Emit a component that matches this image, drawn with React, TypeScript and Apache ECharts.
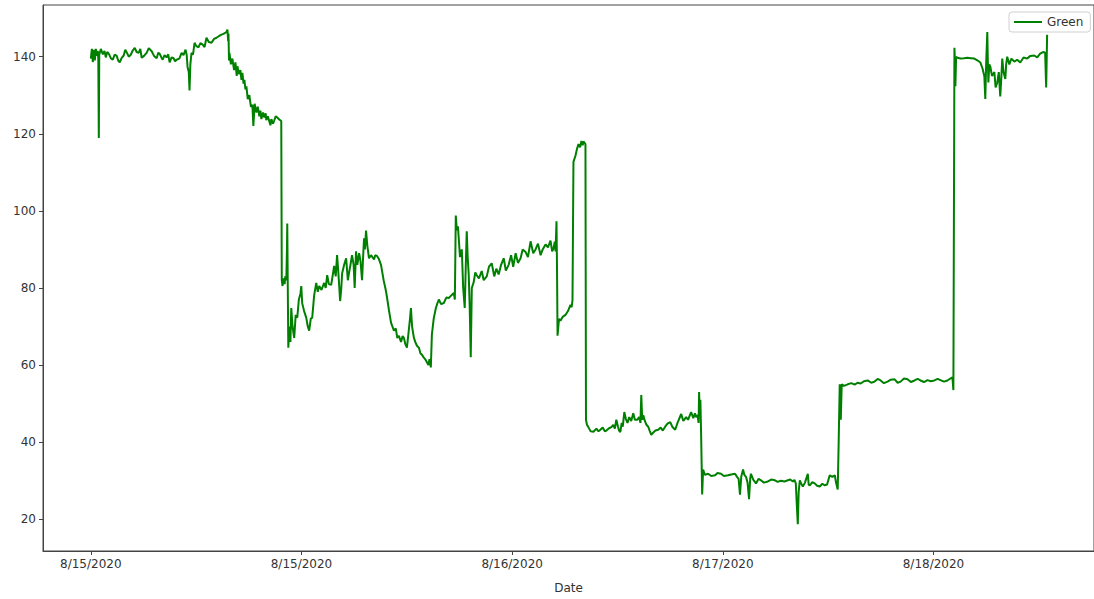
import React, { useEffect, useRef } from "react";
import * as echarts from "echarts";

// Readings of the "Green" channel, as [hours since 8/15/2020 00:00, value].
const firstPlateau: [number, number][] = [
  [0.0, 139.5], [0.1, 142], [0.19, 138.6], [0.28, 141.8], [0.38, 139], [0.47, 142], [0.57, 140.2],
  [0.66, 141.5], [0.71, 139.5], [0.76, 118.9], [0.8, 140.5], [0.95, 142], [1.14, 140.6], [1.3, 141.5],
  [1.42, 139.8], [1.56, 141.2], [1.7, 140.8], [1.9, 139.6], [2.08, 139.2], [2.27, 140.5], [2.46, 140.2],
  [2.6, 139], [2.75, 138.5], [2.93, 139.7], [3.12, 140.3], [3.27, 141.8], [3.41, 141.1], [3.6, 140],
  [3.79, 140.5], [3.98, 141.6], [4.17, 142.3], [4.35, 141.2], [4.54, 141], [4.7, 142], [4.83, 139.7],
  [5.05, 140.2], [5.3, 141], [5.5, 142.2], [5.78, 141.4], [6.0, 140.2], [6.25, 139.6], [6.4, 141],
  [6.53, 140.8], [6.7, 139.8], [6.82, 139.2], [7.0, 140.4], [7.19, 139.8], [7.35, 140.6], [7.48, 138.5],
  [7.67, 139.8], [7.86, 139.6], [8.0, 138.8], [8.14, 139.2], [8.4, 139.5], [8.62, 141], [8.8, 140.4],
  [8.99, 141.8], [9.1, 140.5], [9.18, 137.4], [9.3, 136], [9.37, 131.2], [9.45, 138], [9.56, 141],
  [9.7, 140.5], [9.85, 143.6], [10.0, 142.8], [10.22, 142.4], [10.4, 143.5], [10.6, 143.2],
  [10.8, 142.5], [10.98, 144.9], [11.2, 143.8], [11.46, 143.6], [11.7, 144.6], [11.93, 144.9],
  [12.15, 145.3], [12.4, 145.7], [12.6, 145.9], [12.88, 146.4], [12.97, 147], [13.04, 144], [13.07, 146],
  [13.12, 139], [13.16, 141], [13.3, 138], [13.44, 139.5], [13.6, 136.5], [13.73, 138.5], [13.85, 135],
  [13.92, 137.5], [14.05, 135.5], [14.2, 136.5], [14.3, 134], [14.39, 135.8], [14.5, 133], [14.58, 134],
  [14.68, 131.5], [14.77, 132.3], [14.9, 129], [15.05, 130], [15.2, 127], [15.34, 127.5], [15.43, 122],
  [15.55, 127.8], [15.72, 125.5], [15.85, 127], [16.0, 124.5], [16.1, 126], [16.19, 123.8],
  [16.35, 125.5], [16.47, 124.2], [16.6, 125.3], [16.66, 123.5], [16.8, 124.5], [16.95, 123.2],
  [17.05, 122.2], [17.14, 123.8], [17.3, 122.6], [17.42, 123.5], [17.55, 124.5], [17.7, 124.2],
  [17.89, 123.7], [18.08, 123.3],
];

const middleSwing: [number, number][] = [
  [18.13, 82], [18.2, 80.5], [18.27, 82.5], [18.4, 81], [18.46, 83], [18.56, 82], [18.62, 90],
  [18.65, 96.7], [18.7, 80], [18.75, 64.5], [18.85, 70], [18.95, 66], [19.03, 74.8], [19.15, 70],
  [19.31, 67], [19.45, 73], [19.6, 72.3], [19.75, 77], [19.9, 78.5], [19.98, 80.5], [20.07, 76],
  [20.25, 74], [20.45, 72.3], [20.6, 70], [20.73, 68.9], [20.88, 72], [21.02, 72.3], [21.2, 78],
  [21.4, 81.3], [21.55, 79], [21.68, 80.5], [21.9, 79.5], [22.15, 81.3], [22.3, 80], [22.44, 83.3],
  [22.6, 81], [22.82, 80.8], [22.95, 83], [23.1, 85.7], [23.25, 83], [23.38, 88.5], [23.5, 84],
  [23.67, 76.6], [23.78, 80], [23.86, 83.8], [24.05, 86], [24.24, 87.7], [24.4, 82], [24.52, 84],
  [24.65, 86], [24.8, 88.5], [24.95, 86], [25.05, 80], [25.18, 89.5], [25.3, 86], [25.47, 89],
  [25.6, 87], [25.75, 82], [25.85, 88], [25.94, 92.9], [26.02, 90], [26.13, 94.9], [26.25, 91],
  [26.41, 87.7], [26.6, 88.5], [26.89, 87.4], [27.0, 88.5], [27.17, 88.3], [27.35, 87.5], [27.55, 86],
  [27.8, 82], [28.02, 79.2], [28.15, 77], [28.31, 74.1], [28.5, 71], [28.78, 68.9], [28.95, 69.5],
  [29.1, 67], [29.25, 67.6], [29.45, 66], [29.6, 67.5], [29.73, 67], [29.85, 65.5], [30.01, 64.5],
  [30.15, 68], [30.3, 72], [30.39, 74.8], [30.5, 70], [30.67, 67.1], [30.8, 66], [30.96, 65],
  [31.15, 64.5], [31.3, 63], [31.43, 62.7], [31.6, 62], [31.75, 61.5], [31.91, 60.7], [32.05, 60],
  [32.15, 61.5], [32.28, 59.4], [32.38, 67.9], [32.55, 72], [32.76, 74.8], [32.9, 76], [33.04, 77],
  [33.25, 75.8], [33.51, 76.1], [33.75, 77.5], [33.99, 77.4], [34.2, 78], [34.46, 78.7], [34.56, 77],
  [34.65, 98.8], [34.75, 95], [34.85, 96], [34.93, 92.9], [35.05, 88], [35.22, 90], [35.35, 80],
  [35.5, 74.8], [35.6, 86], [35.69, 94.7], [35.78, 88], [35.88, 83.3], [35.97, 75], [36.07, 62],
  [36.17, 80], [36.35, 81.5], [36.5, 84], [36.64, 83.3], [36.85, 82.5], [37.11, 84.4], [37.3, 82],
  [37.59, 83], [37.8, 85.5], [38.06, 86.4], [38.3, 83], [38.5, 85], [38.72, 83.5], [38.95, 86],
  [39.2, 87.7], [39.4, 84.5], [39.67, 86], [39.9, 88.5], [40.1, 85.5], [40.33, 89], [40.55, 86.5],
  [40.8, 87.7], [41.0, 90], [41.28, 89.3], [41.5, 88], [41.75, 92.1], [42.0, 89], [42.22, 90],
  [42.45, 91.5], [42.7, 88.5], [42.9, 90], [43.17, 91.3], [43.4, 90.5], [43.64, 92.3], [43.8, 89.5],
  [43.93, 90.3], [44.05, 92], [44.12, 89.5], [44.21, 97.3], [44.26, 85], [44.31, 67.6], [44.45, 72],
  [44.59, 71.5], [44.8, 72.5], [45.06, 73], [45.3, 74], [45.54, 75.6], [45.65, 75], [45.73, 76.9],
  [45.82, 112.7], [46.01, 114.3], [46.15, 116], [46.3, 117.3], [46.45, 116.5], [46.58, 118.1],
  [46.7, 117], [46.77, 118], [46.96, 117.3],
];

const lowerSteps: [number, number][] = [
  [47.01, 45.8], [47.1, 44.5], [47.24, 43.9], [47.45, 42.8], [47.72, 42.7], [48.0, 43.5], [48.2, 42.8],
  [48.38, 43.2], [48.6, 43.8], [48.8, 42.8], [48.95, 43], [49.2, 43.6], [49.42, 43.9], [49.6, 44.5],
  [49.75, 43.5], [49.89, 45.8], [50.05, 44], [50.15, 43], [50.27, 42.6], [50.4, 45], [50.5, 44],
  [50.65, 47.8], [50.8, 46], [50.95, 45], [51.12, 46.5], [51.3, 45.5], [51.5, 47.5], [51.65, 45.8],
  [51.88, 45.8], [52.05, 46.5], [52.18, 45], [52.26, 52.2], [52.35, 45.8], [52.45, 47], [52.6, 45.5],
  [52.75, 44.5], [52.92, 44], [53.05, 43], [53.21, 41.9], [53.4, 42.5], [53.6, 43], [53.87, 43.2],
  [54.1, 43.8], [54.3, 43], [54.53, 44], [54.75, 44.8], [55.01, 45.2], [55.2, 44], [55.48, 43.2],
  [55.7, 45], [55.85, 46], [56.05, 47.3], [56.25, 45.5], [56.52, 46.5], [56.7, 45.8], [56.99, 47.8],
  [57.2, 46.2], [57.35, 47.5], [57.47, 46.5], [57.6, 47], [57.7, 45], [57.75, 53], [57.8, 48],
  [57.87, 51], [57.94, 42.1], [58.04, 26.4], [58.13, 32.9], [58.3, 31.5], [58.6, 31.8], [58.9, 31.2],
  [59.27, 31.4], [59.5, 32], [59.83, 31.8], [60.1, 31.2], [60.5, 31.4], [60.8, 31.6], [61.16, 31.8],
  [61.35, 31], [61.5, 30.5], [61.63, 26.4], [61.75, 31], [61.92, 32.9], [62.05, 31.5], [62.2, 31],
  [62.35, 29.5], [62.49, 25.2], [62.6, 30.5], [62.67, 31.8], [62.9, 30.2], [63.15, 29.3], [63.4, 30.5],
  [63.62, 30.1], [63.9, 29.5], [64.28, 29.8], [64.6, 30.3], [64.95, 30.1], [65.2, 29.7], [65.51, 30],
  [65.85, 29.8], [66.18, 30.1], [66.4, 30.3], [66.65, 29.8], [66.8, 30.2], [66.93, 29.3], [67.02, 24],
  [67.12, 18.7], [67.2, 27], [67.31, 30.1], [67.45, 29.2], [67.6, 28.5], [67.8, 29.5], [68.07, 31.8],
  [68.15, 29], [68.26, 28.8], [68.5, 29.6], [68.73, 29.3], [68.95, 28.7], [69.21, 28.5], [69.45, 29.2],
  [69.68, 28.8], [69.9, 29], [70.15, 31.4], [70.4, 31], [70.63, 31.4], [70.75, 29.5], [70.91, 27.7],
  [71.0, 40], [71.1, 55], [71.2, 45.8], [71.29, 55], [71.5, 54.6], [71.86, 55], [72.2, 55.3],
  [72.52, 54.9], [72.8, 55.4], [73.09, 55.2], [73.4, 55.8], [73.75, 56], [74.1, 55.4], [74.41, 55.7],
  [74.7, 56.4], [74.98, 56], [75.3, 55.3], [75.64, 55.7], [75.95, 56.2], [76.31, 56.3], [76.6, 55.4],
  [76.88, 55.7], [77.2, 56.5], [77.54, 56.3], [77.85, 55.6], [78.2, 56], [78.5, 56.4], [78.77, 56],
  [79.1, 55.6], [79.43, 56.1], [79.75, 55.8], [80.09, 56], [80.4, 56.4], [80.66, 56.1], [81.0, 55.7],
  [81.33, 56], [81.6, 56.5], [81.8, 56.8], [81.89, 53.5],
];

const finalPlateau: [number, number][] = [
  [81.99, 142.3], [82.04, 138], [82.08, 132.3], [82.15, 140], [82.27, 139.7], [82.56, 139.5],
  [82.9, 139.6], [83.22, 139.7], [83.55, 139.6], [83.88, 139.5], [84.2, 139], [84.45, 138.5],
  [84.65, 137], [84.83, 134.9], [84.92, 129], [85.0, 138], [85.11, 146.4], [85.16, 139], [85.21, 133.3],
  [85.3, 138], [85.4, 137.4], [85.55, 135], [85.78, 136], [85.9, 132], [86.06, 133.3], [86.2, 136],
  [86.34, 129.7], [86.45, 135], [86.53, 139.5], [86.65, 136], [86.82, 134.2], [86.9, 138], [87.0, 140],
  [87.2, 138], [87.4, 139.5], [87.67, 138.7], [87.95, 139.2], [88.24, 138.5], [88.55, 139.8],
  [88.9, 139.5], [89.2, 140.2], [89.56, 140.3], [89.85, 139.8], [90.13, 140.8], [90.4, 141.2],
  [90.6, 141], [90.7, 132], [90.79, 145.7],
];

const xTickHours = [0, 20, 40, 60, 80];
const xTickLabels = ["8/15/2020", "8/15/2020", "8/16/2020", "8/17/2020", "8/18/2020"];
const yTicks = [20, 40, 60, 80, 100, 120, 140];

const FONT = "DejaVu Sans";
const INK = "#333333";
const SPINE = "#444444";
const GREEN = "#008000";

export default function App() {
  const ref = useRef<HTMLDivElement>(null);

  useEffect(() => {
    document.body.style.margin = "0";
    const chart = echarts.init(ref.current!, null, { renderer: "svg" });
    const data = [...firstPlateau, ...middleSwing, ...lowerSteps, ...finalPlateau];

    chart.setOption({
      animation: false,
      backgroundColor: "#ffffff",
      grid: {
        left: 43,
        top: 5,
        width: 1054,
        height: 550,
        show: true,
        borderColor: SPINE,
        borderWidth: 1,
        containLabel: false,
      },
      legend: {
        left: 1009,
        top: 12,
        padding: [4, 7, 4, 4],
        itemWidth: 28,
        itemHeight: 14,
        backgroundColor: "rgba(255,255,255,0.8)",
        borderColor: "#d0d0d0",
        borderWidth: 1,
        borderRadius: 3,
        // only the line sample, no marker on it
        itemStyle: { color: "transparent", borderColor: "transparent", borderWidth: 0 },
        lineStyle: { color: GREEN, width: 2 },
        textStyle: { fontFamily: FONT, fontSize: 12, color: INK },
        data: ["Green"],
      },
      xAxis: {
        type: "value",
        min: -4.54,
        max: 95.24,
        name: "Date",
        nameLocation: "middle",
        nameGap: 31,
        nameTextStyle: { fontFamily: FONT, fontSize: 12, color: INK },
        axisLine: { show: true, onZero: false, lineStyle: { color: SPINE, width: 1 } },
        axisTick: {
          show: true,
          length: 4,
          inside: false,
          customValues: xTickHours,
          lineStyle: { color: SPINE },
        },
        axisLabel: {
          show: true,
          margin: 7,
          fontFamily: FONT,
          fontSize: 12,
          color: INK,
          customValues: xTickHours,
          formatter: (v: number) => xTickLabels[xTickHours.indexOf(Math.round(v))] ?? "",
        },
        splitLine: { show: false },
      },
      yAxis: {
        type: "value",
        min: 11.76,
        max: 153.4,
        axisLine: { show: true, onZero: false, lineStyle: { color: SPINE, width: 1 } },
        axisTick: {
          show: true,
          length: 4,
          customValues: yTicks,
          lineStyle: { color: SPINE },
        },
        axisLabel: {
          show: true,
          margin: 7,
          fontFamily: FONT,
          fontSize: 12,
          color: INK,
          customValues: yTicks,
        },
        splitLine: { show: false },
      },
      series: [
        {
          name: "Green",
          type: "line",
          data,
          symbol: "none",
          showSymbol: false,
          lineStyle: { color: GREEN, width: 2 },
          itemStyle: { color: GREEN },
        },
      ],
    });

    return () => chart.dispose();
  }, []);

  return <div ref={ref} style={{ width: 1094, height: 599 }} />;
}
